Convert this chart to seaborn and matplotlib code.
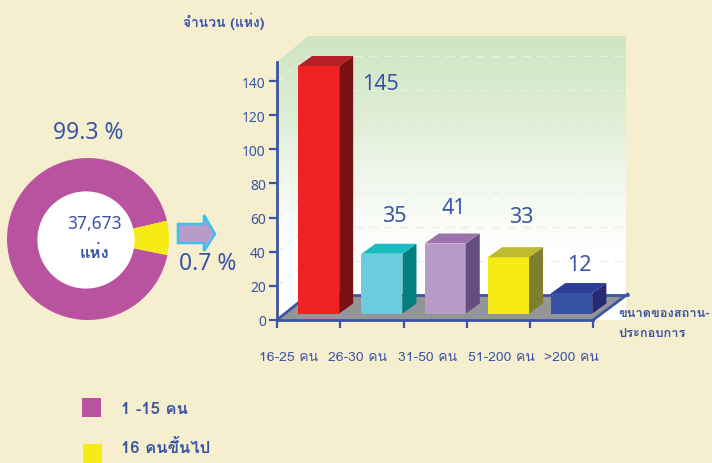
#!/usr/bin/env python3
import numpy as np
import pandas as pd
import matplotlib
matplotlib.use("Agg")
import matplotlib.pyplot as plt
import seaborn as sns
from matplotlib.colors import LinearSegmentedColormap
from matplotlib.patches import Polygon, Circle
from matplotlib.transforms import ScaledTranslation

# ---------- data ----------
size_labels = ["16-25 คน", "26-30 คน", "31-50 คน", "51-200 คน", ">200 คน"]
workplaces = [145, 35, 41, 33, 12]
y_ticks = [0, 20, 40, 60, 80, 100, 120, 140]
# wedge sizes as drawn in the picture, the 0.7 % slice is exaggerated there
slice_shares = [93.2, 6.8]
legend_labels = ["1 -15 คน", "16 คนขึ้นไป"]

# ---------- colours ----------
BG = "#f5efcf"
INK = "#3b55a5"
FRONT = ["#ee2224", "#6dcbdf", "#b89bc9", "#f6eb14", "#3853a4"]
TOP = ["#b81e25", "#1abcbf", "#9b73ad", "#bdbb2f", "#2e3f9a"]
SIDE = ["#7a1214", "#008080", "#634e7e", "#7f7f30", "#272a75"]
MAGENTA, YELLOW = "#b9529f", "#f6eb14"

# ---------- fonts ----------
sns.set_style("white")
THAI = ["Loma", "Noto Sans", "DejaVu Sans"]     # text with Thai in it
plt.rcParams["font.family"] = ["Noto Sans", "Loma", "DejaVu Sans"]

W, H = 712, 464
PX = 1.707            # pixels per unit on the y axis
fig = plt.figure(figsize=(W / 100, H / 100), dpi=100, facecolor=BG)


def box(x0, y0, x1, y1):
    # pixel box, y measured from the top of the picture
    return [x0 / W, 1 - y1 / H, (x1 - x0) / W, (y1 - y0) / H]


# ---------- room behind the bars (pixel coordinates) ----------
bg = fig.add_axes([0, 0, 1, 1], zorder=0)
bg.set_axis_off()
wall_cmap = LinearSegmentedColormap.from_list(
    "wall", ["#cfe5c4", "#dcecd2", "#f0f7ec", "#ffffff", "#ffffff"])
grad = bg.imshow(np.linspace(0, 1, 256)[:, None], extent=[277, 626, 321, 37],
                 aspect="auto", cmap=wall_cmap, zorder=1)
wall = Polygon([(277, 321), (277, 63), (308, 37), (626, 37), (626, 321)],
               transform=bg.transData, fc="none", ec="none")
bg.add_patch(wall)
grad.set_clip_path(wall)
for v in y_ticks[1:]:
    y = 296 - v * PX
    bg.plot([308, 626], [y, y], color="#e6f1de", lw=1, ls=(0, (6, 5)), zorder=2)
    bg.plot([279, 308], [y + 24, y], color="#e6f1de", lw=1, ls=(0, (4, 4)), zorder=2)
bg.add_patch(Polygon([(277, 321), (593, 321), (626, 296), (308, 296)],
                     fc="#939598", ec="none", zorder=3))
bg.plot([308, 628], [296, 296], color=INK, lw=2, zorder=4)
bg.plot([277, 308], [321, 296], color=INK, lw=2, zorder=4)
bg.plot([593, 628], [321, 295], color=INK, lw=2, zorder=4)
bg.set_xlim(0, W)
bg.set_ylim(H, 0)

# ---------- axes of the bar chart ----------
ax = fig.add_axes(box(277, 63, 593.5, 321), zorder=1)
ax.patch.set_alpha(0)
ax.set_xlim(-0.5, 4.5)
ax.set_ylim(0, 258 / PX)
sns.despine(ax=ax, top=True, right=True)
for s in ["left", "bottom"]:
    ax.spines[s].set_color(INK)
    ax.spines[s].set_linewidth(2)
ax.set_yticks(y_ticks)
ax.tick_params(axis="y", colors=INK, labelsize=10, length=6, width=1.6, pad=2, left=True)
ax.set_xticks(np.arange(-0.5, 5))
ax.set_xticklabels([])
ax.tick_params(axis="x", which="major", colors=INK, length=6, width=1.6, bottom=True)
ax.set_xticks(range(5), minor=True)
ax.set_xticklabels(size_labels, minor=True, family=THAI)
ax.tick_params(axis="x", which="minor", length=0, labelsize=10, labelcolor=INK, pad=22)
label_shift = [-20, -14, -8, 3, 10]
for lab, dx_px in zip(ax.get_xticklabels(minor=True), label_shift):
    lab.set_transform(lab.get_transform() + ScaledTranslation(dx_px / 100, 0, fig.dpi_scale_trans))

ax.set_ylabel("จำนวน (แห่ง)", rotation=0, color=INK, fontsize=10, fontweight="bold",
              ha="center", va="center", family=THAI)
ax.yaxis.set_label_coords((224 - 277) / 316.5, (321 - 21) / 258)
ax.set_xlabel("ขนาดของสถาน-\nประกอบการ", color=INK, fontsize=9.2, fontweight="bold",
              ha="left", va="center", linespacing=1.9, family=THAI)
ax.xaxis.set_label_coords((618 - 277) / 316.5, (321 - 324) / 258)

# ---------- bars, sitting on the floor a little behind the front edge ----------
bar_ax = fig.add_axes(box(287, 56.5, 603.5, 314.5), zorder=2)
df = pd.DataFrame({"size": size_labels, "count": workplaces})
sns.barplot(data=df, x="size", y="count", hue="size", palette=FRONT, legend=False,
            width=0.648, saturation=1, linewidth=0, edgecolor="none", ax=bar_ax)
bar_ax.set_xlim(-0.5, 4.5)
bar_ax.set_ylim(0, 258 / PX)
bar_ax.set_axis_off()
bar_ax.patch.set_alpha(0)

dx = 14 / 63.3
dy = 10 / PX
label_off = [(62, -18), (12, 38), (8, 36), (13, 41), (7, 29)]
for i, bar in enumerate(list(bar_ax.patches)):
    x0, x1 = bar.get_x(), bar.get_x() + bar.get_width()
    h = bar.get_height()
    bar_ax.add_patch(Polygon([(x1, 0), (x1 + dx, dy), (x1 + dx, h + dy), (x1, h)],
                             fc=SIDE[i], ec="none", clip_on=False))
    bar_ax.add_patch(Polygon([(x0, h), (x0 + dx, h + dy), (x1 + dx, h + dy), (x1, h)],
                             fc=TOP[i], ec="none", clip_on=False))
    bar_ax.annotate(str(workplaces[i]), ((x0 + x1) / 2, h),
                    xytext=(label_off[i][0] * 0.72, label_off[i][1] * 0.72),
                    textcoords="offset points", ha="center", va="center",
                    color=INK, fontsize=15.5, annotation_clip=False)

# ---------- donut ----------
pie_ax = fig.add_axes(box(7, 159, 169, 321), zorder=1)
pie_ax.pie(slice_shares, colors=[MAGENTA, YELLOW], startangle=13, radius=1,
           wedgeprops={"width": 0.45, "linewidth": 0}, frame=False)
pie_ax.add_patch(Circle((-0.025, -0.012), 0.6, fc="white", ec="none", zorder=3))
pie_ax.set_xlim(-1, 1)
pie_ax.set_ylim(-1, 1)

# ---------- free text, arrow and legend ----------
tx = dict(color=INK, ha="center", va="center", zorder=6)
top = fig.add_axes([0, 0, 1, 1], zorder=4)
top.set_axis_off()
top.set_xlim(0, W)
top.set_ylim(H, 0)
top.text(88, 133, "99.3 %", fontsize=16.5, **tx)
top.text(208, 264, "0.7 %", fontsize=16.5, **tx)
top.text(94, 224, "37,673", fontsize=12.5, **tx)
top.text(94, 253, "แห่ง", fontsize=12, fontweight="bold", family=THAI, **tx)
top.add_patch(Polygon([(178, 225), (204, 225), (204, 216), (215, 235),
                       (204, 252), (204, 244), (178, 244)],
                      fc="#b89bc9", ec="#3dbfef", lw=1.8, joinstyle="miter"))
top.add_patch(Polygon([(82, 399), (101, 399), (101, 418), (82, 418)], fc=MAGENTA, ec="none"))
top.add_patch(Polygon([(83, 445), (102, 445), (102, 464), (83, 464)], fc=YELLOW, ec="none"))
top.text(121, 410, legend_labels[0], color=INK, fontsize=12, va="center", fontweight="bold", family=THAI)
top.text(121, 448, legend_labels[1], color=INK, fontsize=12, va="center", fontweight="bold", family=THAI)

fig.savefig("out.png", dpi=100, facecolor=BG)
